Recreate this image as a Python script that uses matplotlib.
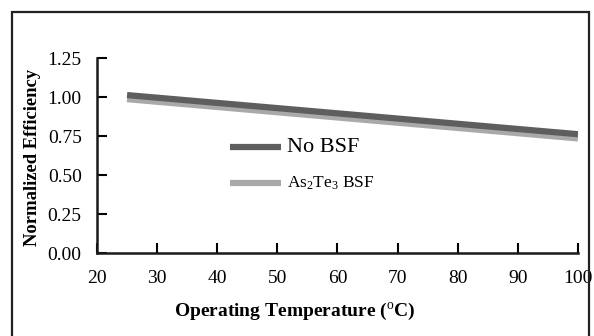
import numpy as np
import matplotlib.pyplot as plt
from matplotlib.patches import Rectangle

plt.rcParams['font.family'] = ['Liberation Serif', 'DejaVu Serif']
plt.rcParams['mathtext.fontset'] = 'custom'
plt.rcParams['mathtext.rm'] = 'Liberation Serif'
plt.rcParams['mathtext.it'] = 'Liberation Serif:italic'
plt.rcParams['mathtext.bf'] = 'Liberation Serif:bold'

# data
temps = [25, 100]
no_bsf = [1.013, 0.762]
as2te3_bsf = [0.987, 0.735]
x_ticks = [20, 30, 40, 50, 60, 70, 80, 90, 100]
y_ticks = [0.00, 0.25, 0.50, 0.75, 1.00, 1.25]

fig = plt.figure(figsize=(5.94, 3.36), dpi=100)
ax = fig.add_axes([0.1633, 0.247, 0.8097, 0.580])

l2, = ax.plot(temps, as2te3_bsf, color='#a9a9a9', lw=4.5, solid_capstyle='butt',
              label=r'As$_2$Te$_3$ BSF')
l1, = ax.plot(temps, no_bsf, color='#5e5e5e', lw=4.5, solid_capstyle='butt',
              label='No BSF')

ax.set_xlim(20, 100)
ax.set_ylim(0, 1.25)
ax.set_xticks(x_ticks)
ax.set_yticks(y_ticks)
ax.set_yticklabels(['%.2f' % v for v in y_ticks])
ax.tick_params(direction='in', length=7, width=1.5, labelsize=14)
ax.tick_params(axis='x', pad=12)
ax.tick_params(axis='y', pad=11)
for s in ['top', 'right']:
    ax.spines[s].set_visible(False)
for s in ['left', 'bottom']:
    ax.spines[s].set_linewidth(1.8)
    ax.spines[s].set_color('#1a1a1a')

ax.set_xlabel(r'Operating Temperature ($^{\mathrm{o}}$C)', fontsize=14, fontweight='bold')
ax.xaxis.set_label_coords(0.412, -0.245)
ax.set_ylabel('Normalized Efficiency', fontsize=13.4, fontweight='bold')
ax.yaxis.set_label_coords(-0.116, 0.49)

leg = ax.legend(handles=[l1, l2], loc='upper left', bbox_to_anchor=(0.25, 0.656),
                frameon=False, fontsize=10, handlelength=3.67, handletextpad=0.45,
                labelspacing=1.32)
leg.get_texts()[0].set_fontsize(16)
leg.get_texts()[1].set_fontsize(12.5)

fig.patches.append(Rectangle((12 / 594, -0.1), 577 / 594, 1.1 - 12 / 336, transform=fig.transFigure,
                             fill=False, edgecolor='#222222', lw=1.6))

fig.savefig('out.png', dpi=100)
